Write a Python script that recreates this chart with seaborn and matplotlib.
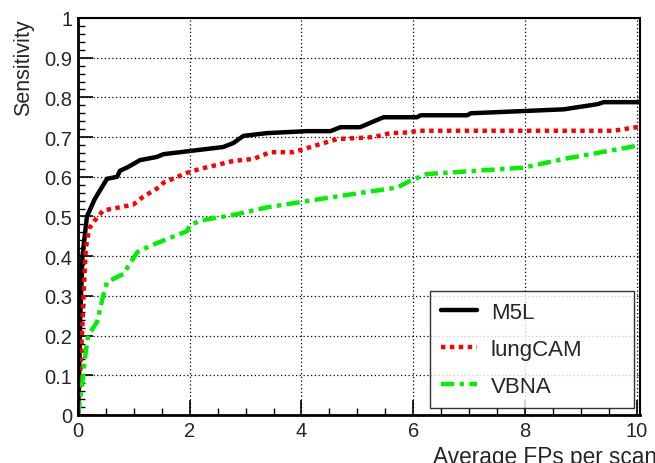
import matplotlib
matplotlib.use("Agg")
import matplotlib.pyplot as plt
import seaborn as sns
from matplotlib.ticker import MultipleLocator, FuncFormatter

sns.set_theme(style="white")
plt.rcParams['font.family'] = ['Liberation Sans', 'DejaVu Sans']

m5l_x = [0, 0.02, 0.04, 0.08, 0.16, 0.30, 0.39, 0.52, 0.70, 0.75, 0.9, 1.11, 1.41, 1.53, 1.83, 2.3, 2.6, 2.78,
         2.96, 3.38, 4.1, 4.52, 4.7, 5.05, 5.3, 5.47, 6.07, 6.13, 6.97, 7.03, 8.04, 8.7, 9.3, 9.41, 10.07]
m5l_y = [0, 0.1, 0.25, 0.4, 0.50, 0.544, 0.565, 0.595, 0.60, 0.615, 0.625, 0.642, 0.65, 0.657, 0.662, 0.67, 0.675, 0.685,
         0.703, 0.71, 0.715, 0.715, 0.725, 0.725, 0.74, 0.75, 0.75, 0.755, 0.755, 0.76, 0.766, 0.77, 0.783, 0.788, 0.788]

lung_x = [0, 0.04, 0.1, 0.14, 0.2, 0.3, 0.45, 0.63, 0.99, 1.17, 1.41, 1.53, 1.95, 2.19, 2.49, 2.78, 3.14, 3.44, 3.85,
          4.52, 4.64, 5.29, 5.59, 5.95, 6.07, 9.59, 10.0, 10.07]
lung_y = [0, 0.1, 0.3, 0.42, 0.47, 0.49, 0.515, 0.52, 0.53, 0.55, 0.57, 0.585, 0.61, 0.62, 0.63, 0.64, 0.645, 0.662, 0.662,
          0.69, 0.695, 0.70, 0.71, 0.712, 0.716, 0.716, 0.725, 0.726]

vbna_x = [0, 0.07, 0.13, 0.18, 0.34, 0.45, 0.52, 0.81, 1.06, 1.29, 1.59, 1.95, 2.0, 2.19, 2.78, 3.38, 4.52, 5.71,
          5.95, 6.25, 7.97, 8.7, 10.0]
vbna_y = [0, 0.073, 0.15, 0.2, 0.234, 0.30, 0.335, 0.355, 0.41, 0.426, 0.443, 0.463, 0.477, 0.49, 0.504, 0.523, 0.548, 0.573,
          0.59, 0.607, 0.623, 0.645, 0.678]

labels = ["M5L", "lungCAM", "VBNA"]

fig = plt.figure(figsize=(6.55, 4.64), dpi=100)
ax = fig.add_axes([78/655, 1-416/464, (640-78)/655, (416-19)/464])

sns.lineplot(x=m5l_x, y=m5l_y, ax=ax, color="black", lw=3.2, estimator=None, sort=False, label=labels[0])
sns.lineplot(x=lung_x, y=lung_y, ax=ax, color="#ff0000", lw=3.2, estimator=None, sort=False, label=labels[1])
sns.lineplot(x=vbna_x, y=vbna_y, ax=ax, color="#00f000", lw=3.2, estimator=None, sort=False, label=labels[2])
lines = ax.get_lines()
lines[1].set_linestyle((0, (1.0, 1.0)))
lines[1].set_dash_capstyle('butt')
lines[2].set_linestyle((0, (3.0, 1.2, 1.0, 1.2)))

ax.set_xlim(0, 10.06)
ax.set_ylim(0, 1)
ax.xaxis.set_major_locator(MultipleLocator(2))
ax.xaxis.set_minor_locator(MultipleLocator(0.5))
ax.yaxis.set_major_locator(MultipleLocator(0.1))
ax.yaxis.set_minor_locator(MultipleLocator(0.02))
ax.yaxis.set_major_formatter(FuncFormatter(lambda v, p: f"{v:g}"))
ax.xaxis.set_major_formatter(FuncFormatter(lambda v, p: f"{v:g}"))

ax.grid(True, which="major", color="black", linestyle=(0, (1, 2)), linewidth=0.9)
ax.tick_params(which="major", direction="in", length=11, width=1.2, labelsize=14.5, color="black",
               bottom=True, left=True, top=False, right=False, pad=4)
ax.tick_params(which="minor", direction="in", length=5, width=1.0, color="black",
               bottom=True, left=True, top=False, right=False)
for side, sp in ax.spines.items():
    sp.set_color("black")
    sp.set_linewidth(2.0 if side in ("left", "bottom") else 1.5)

ax.set_ylabel("Sensitivity", fontsize=15.5, loc="top")
ax.yaxis.set_label_coords(-0.078, 1.0)
ax.set_xlabel("Average FPs per scan", fontsize=16.3, loc="right")
ax.xaxis.set_label_coords(1.03, -0.0756)

x0 = (430-78)/562
y0 = (416-406)/397
w = (634-430)/562
h = (406-292)/397
leg = ax.legend(loc="upper left", bbox_to_anchor=(x0, y0, w, h), mode="expand", frameon=True, fancybox=False,
                edgecolor="black", fontsize=16, handlelength=1.6, borderpad=0.5, labelspacing=0.72,
                handletextpad=0.63, borderaxespad=0)
leg.get_frame().set_linewidth(1.0)

fig.savefig("out.png", dpi=100)
